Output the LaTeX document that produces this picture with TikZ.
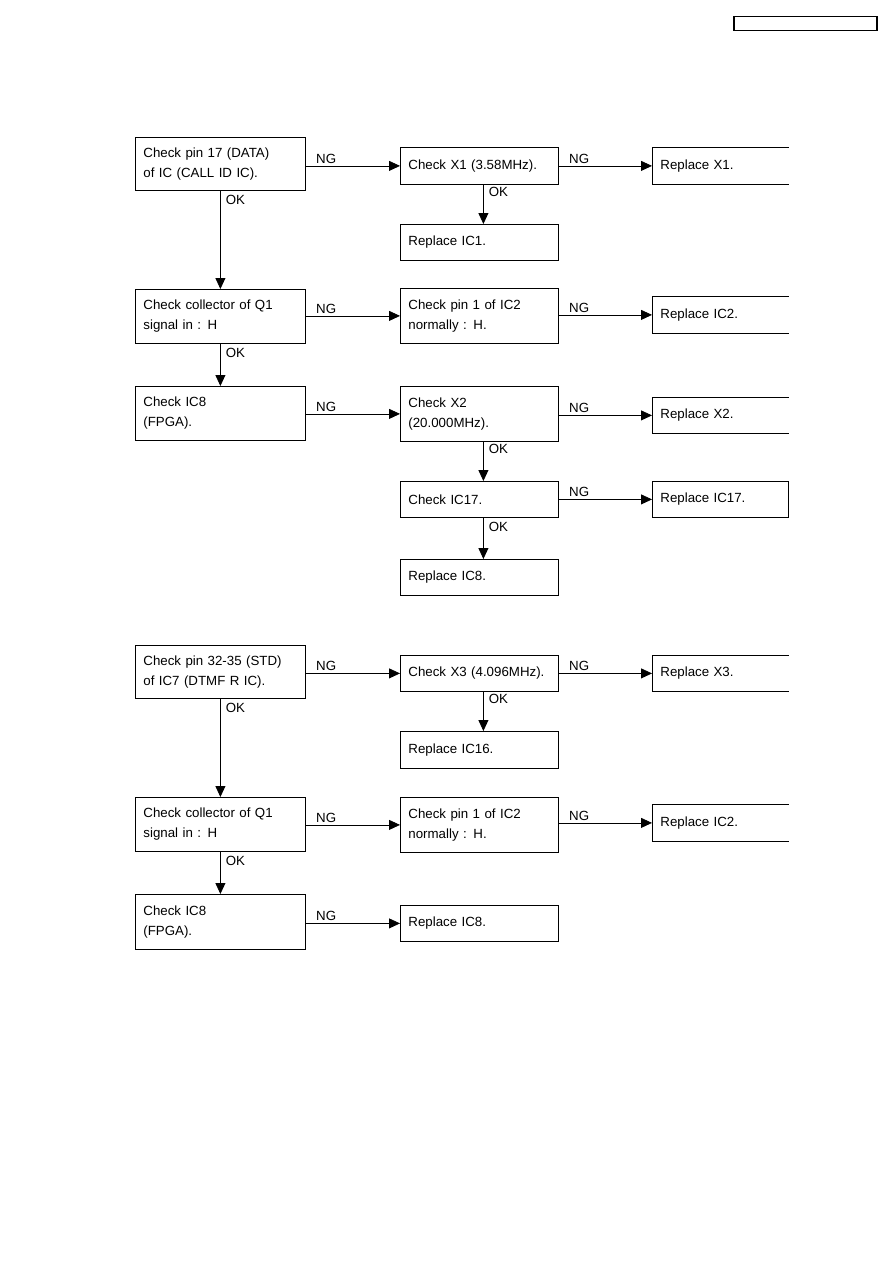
\documentclass[tikz,border=0pt]{standalone}
\usepackage{fontspec}
\setmainfont{Liberation Sans}
\usepackage{tikz}
\usetikzlibrary{positioning,arrows.meta}

\begin{document}
\begin{tikzpicture}[x=1pt,y=-1pt,
  box/.style={anchor=north west,align=left,inner xsep=8pt,inner ysep=0pt,line width=0.8pt,
    font=\fontsize{13.3}{20}\selectfont},
  lbox/.style={box,draw,text width=154pt,minimum height=54pt},
  mbox/.style={box,draw,text width=142pt,minimum height=36pt},
  rbox/.style={box,text width=120pt,minimum height=36pt},
  edge/.style={line width=0.8pt},
  arr/.style={-{Triangle[length=11pt,width=10pt]},line width=0.8pt},
  lbl/.style={font=\fontsize{13.3}{16}\selectfont,inner sep=2pt}]
\useasboundingbox (0,0) rectangle (893,1263);
\node[draw,line width=1.5pt,anchor=north west,minimum width=143pt,minimum height=14pt,inner sep=0pt] (hdr) at (733,16) {};
% first chart
\node[lbox,minimum height=53pt] (chkA) at (135,137) {Check pin 17 (DATA)\\of IC (CALL ID IC).};
\node[mbox,minimum height=37pt] (chkX1) at (400,147) {Check X1 (3.58MHz).};
\node[rbox,minimum height=37pt] (repX1) at (652,147) {Replace X1.};
\node[mbox] (repIC1) at (400,224) {Replace IC1.};
\node[lbox] (chkQ1) at (135,289) {Check collector of Q1\\signal in : H};
\node[mbox,minimum height=55pt] (chkIC2) at (400,288) {Check pin 1 of IC2\\normally : H.};
\node[rbox,minimum height=37pt] (repIC2) at (652,296) {Replace IC2.};
\node[lbox] (chkIC8) at (135,386) {Check IC8\\(FPGA).};
\node[mbox,minimum height=55pt] (chkX2) at (400,386) {Check X2\\(20.000MHz).};
\node[rbox] (repX2) at (652,397) {Replace X2.};
\node[mbox] (chkIC17) at (400,481) {Check IC17.};
\node[rbox,draw] (repIC17) at (652,481) {Replace IC17.};
\node[mbox] (repIC8) at (400,559) {Replace IC8.};
% second chart
\node[lbox,minimum height=53pt] (chkB) at (135,645) {Check pin 32-35 (STD)\\of IC7 (DTMF R IC).};
\node[mbox] (chkX3) at (400,655) {Check X3 (4.096MHz).};
\node[rbox] (repX3) at (652,655) {Replace X3.};
\node[mbox,minimum height=37pt] (repIC16) at (400,731) {Replace IC16.};
\node[lbox] (chkQ1b) at (135,797) {Check collector of Q1\\signal in : H};
\node[mbox,minimum height=55pt] (chkIC2b) at (400,797) {Check pin 1 of IC2\\normally : H.};
\node[rbox,minimum height=37pt] (repIC2b) at (652,804) {Replace IC2.};
\node[lbox,minimum height=55pt] (chkIC8b) at (135,894) {Check IC8\\(FPGA).};
\node[mbox] (repIC8b) at (400,905) {Replace IC8.};
% open replace boxes
\foreach \n in {repX1,repIC2,repX2,repX3,repIC2b}
  \draw[edge] (\n.north east) -- (\n.north west) -- (\n.south west) -- (\n.south east);
% NG arrows
\draw[arr] (chkX1.west -| chkA.east) -- node[lbl,at start,anchor=south west,xshift=8pt] {NG} (chkX1.west);
\draw[arr] (chkX1.east) -- node[lbl,at start,anchor=south west,xshift=8pt] {NG} (repX1.west);
\draw[arr] (chkIC2.west -| chkQ1.east) -- node[lbl,at start,anchor=south west,xshift=8pt] {NG} (chkIC2.west);
\draw[arr] (repIC2.west -| chkIC2.east) -- node[lbl,at start,anchor=south west,xshift=8pt] {NG} (repIC2.west);
\draw[arr] (chkX2.west -| chkIC8.east) -- node[lbl,at start,anchor=south west,xshift=8pt] {NG} (chkX2.west);
\draw[arr] (repX2.west -| chkX2.east) -- node[lbl,at start,anchor=south west,xshift=8pt] {NG} (repX2.west);
\draw[arr] (chkIC17.east) -- node[lbl,at start,anchor=south west,xshift=8pt] {NG} (repIC17.west);
\draw[arr] (chkX3.west -| chkB.east) -- node[lbl,at start,anchor=south west,xshift=8pt] {NG} (chkX3.west);
\draw[arr] (chkX3.east) -- node[lbl,at start,anchor=south west,xshift=8pt] {NG} (repX3.west);
\draw[arr] (chkIC2b.west -| chkQ1b.east) -- node[lbl,at start,anchor=south west,xshift=8pt] {NG} (chkIC2b.west);
\draw[arr] (repIC2b.west -| chkIC2b.east) -- node[lbl,at start,anchor=south west,xshift=8pt] {NG} (repIC2b.west);
\draw[arr] (repIC8b.west -| chkIC8b.east) -- node[lbl,at start,anchor=south west,xshift=8pt] {NG} (repIC8b.west);
% OK arrows
\draw[arr] (chkA) -- node[lbl,at start,anchor=north west,xshift=3pt,yshift=-2pt] {OK} (chkQ1);
\draw[arr] ([xshift=4pt]chkX1.south) -- node[lbl,at start,anchor=north west,xshift=3pt] {OK} ([xshift=4pt]repIC1.north);
\draw[arr] (chkQ1) -- node[lbl,at start,anchor=north west,xshift=3pt,yshift=-2pt] {OK} (chkIC8);
\draw[arr] ([xshift=4pt]chkX2.south) -- node[lbl,at start,anchor=north west,xshift=3pt] {OK} ([xshift=4pt]chkIC17.north);
\draw[arr] ([xshift=4pt]chkIC17.south) -- node[lbl,at start,anchor=north west,xshift=3pt,yshift=-2pt] {OK} ([xshift=4pt]repIC8.north);
\draw[arr] (chkB) -- node[lbl,at start,anchor=north west,xshift=3pt,yshift=-2pt] {OK} (chkQ1b);
\draw[arr] ([xshift=4pt]chkX3.south) -- node[lbl,at start,anchor=north west,xshift=3pt] {OK} ([xshift=4pt]repIC16.north);
\draw[arr] (chkQ1b) -- node[lbl,at start,anchor=north west,xshift=3pt,yshift=-2pt] {OK} (chkIC8b);
\end{tikzpicture}
\end{document}
